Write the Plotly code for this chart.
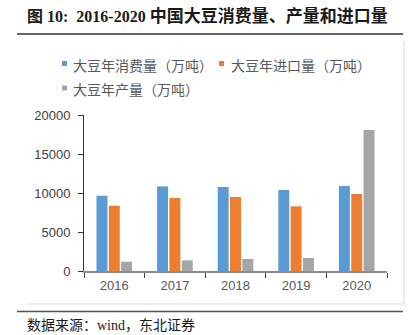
import plotly.graph_objects as go

years = ["2016", "2017", "2018", "2019", "2020"]
consumption = [9650, 10850, 10770, 10390, 10900]
imports = [8370, 9360, 9490, 8290, 9870]
production = [1190, 1370, 1540, 1670, 18080]
series_names = ["大豆年消费量（万吨）", "大豆年进口量（万吨）", "大豆年产量（万吨）"]
colors = ["#5B9BD5", "#ED7D31", "#A5A5A5"]
y_ticks = [0, 5000, 10000, 15000, 20000]
title_latin = "图 10:  2016-2020 "
title_cjk = "中国大豆消费量、产量和进口量"
source_text = "数据来源：wind，东北证券"

W, H = 418, 335
L, R, T, B = 84, 31, 115, 64
PW, PH = W - L - R, H - T - B


def px(x):
    return (x - L) / PW


def py(y):
    return (H - B - y) / PH


fig = go.Figure()
for name, vals, c in zip(series_names, [consumption, imports, production], colors):
    fig.add_trace(go.Bar(x=years, y=vals, name=name, marker=dict(color=c, line=dict(width=0)),
                         showlegend=False))

CJK = "Noto Sans CJK SC"
SERIF = "Liberation Serif, Noto Sans CJK SC"

shapes = []
annotations = []

# title
annotations.append(dict(text="<b>" + title_latin + '<span style="font-size:17px">' + title_cjk + "</span></b>",
                         x=px(25), y=py(16), xref="paper", yref="paper",
                         xanchor="left", yanchor="middle", showarrow=False,
                         font=dict(family=SERIF, size=16, color="#1a1a1a")))
shapes.append(dict(type="line", xref="paper", yref="paper", x0=px(17), x1=px(403), y0=py(34), y1=py(34),
                   line=dict(color="#333333", width=1.5)))

# legend (manual)
leg_pos = [(62, 63.5, 71, 65), (219, 63.5, 229, 65), (62, 88, 71, 89)]
for (sx, sy, tx, ty), name, c in zip(leg_pos, series_names, colors):
    shapes.append(dict(type="rect", xref="paper", yref="paper", x0=px(sx), x1=px(sx + 5),
                       y0=py(sy - 2.5), y1=py(sy + 2.5), fillcolor=c, line=dict(width=0)))
    annotations.append(dict(text=name, x=px(tx), y=py(ty), xref="paper", yref="paper",
                            xanchor="left", yanchor="middle", showarrow=False,
                            font=dict(family=CJK, size=14, color="#595959")))

# chart box (right & bottom)
shapes.append(dict(type="line", xref="paper", yref="paper", x0=px(404), x1=px(404), y0=py(41), y1=py(304),
                   line=dict(color="#d9d9d9", width=1)))
shapes.append(dict(type="line", xref="paper", yref="paper", x0=px(27), x1=px(404), y0=py(304), y1=py(304),
                   line=dict(color="#d9d9d9", width=1)))

# footer
shapes.append(dict(type="line", xref="paper", yref="paper", x0=px(17), x1=px(403), y0=py(311.5), y1=py(311.5),
                   line=dict(color="#555555", width=1.5)))
annotations.append(dict(text=source_text, x=px(25), y=py(325), xref="paper", yref="paper",
                        xanchor="left", yanchor="middle", showarrow=False,
                        font=dict(family=SERIF, size=14, color="#1a1a1a")))

fig.update_layout(
    width=W, height=H,
    margin=dict(l=L, r=R, t=T, b=B, pad=0),
    paper_bgcolor="white", plot_bgcolor="white",
    barmode="group", bargap=0.39, bargroupgap=0.11,
    showlegend=False,
    shapes=shapes, annotations=annotations,
    xaxis=dict(type="category", showline=True, linecolor="#8c8c8c", linewidth=1.5,
               ticks="outside", tickson="boundaries", ticklen=5, tickcolor="#404040", tickwidth=1,
               showgrid=False, tickfont=dict(family="Liberation Sans, Arial", size=13, color="#595959"),
               ticklabelstandoff=2),
    yaxis=dict(range=[0, 20000], tickvals=y_ticks, tickformat="d", showline=True, linecolor="#333333",
               linewidth=1, ticks="outside", ticklen=5, tickcolor="#333333", showgrid=False, zeroline=False,
               tickfont=dict(family="Liberation Sans, Arial", size=13, color="#404040"),
               ticklabelstandoff=5),
)

fig.write_html("out.html")
